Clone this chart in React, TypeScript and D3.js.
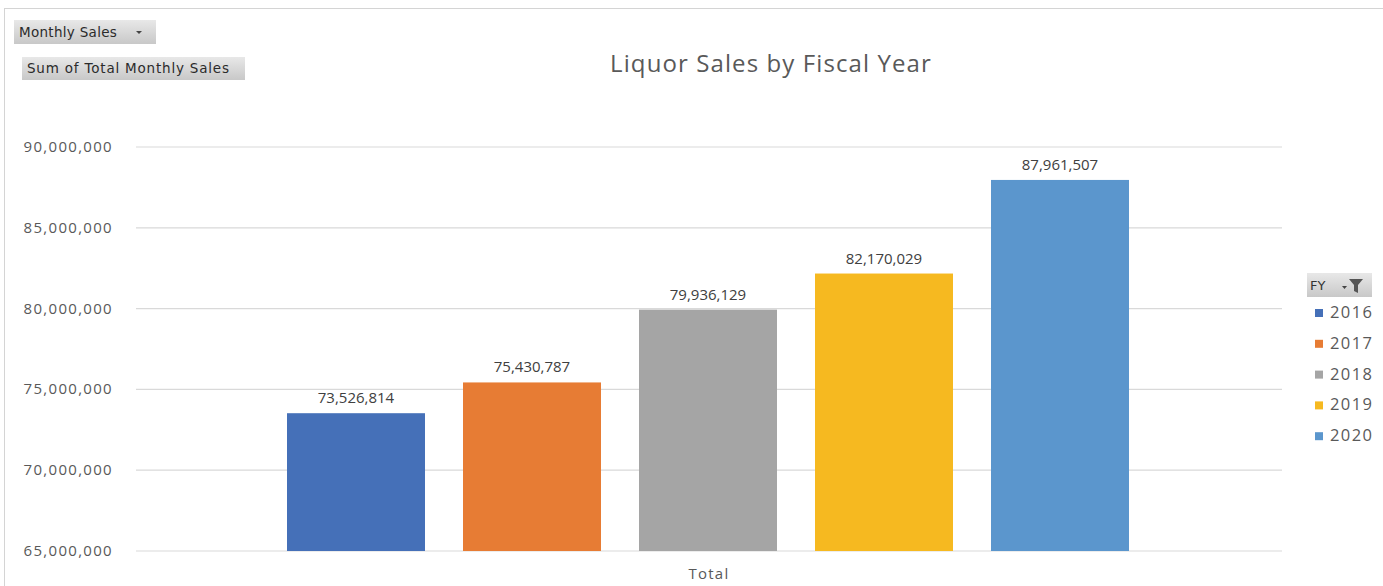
import React from "react";
import * as d3 from "d3";

const years = ["2016", "2017", "2018", "2019", "2020"];
const sales = [73526814, 75430787, 79936129, 82170029, 87961507];
const colors = ["#4570B8", "#E77C34", "#A5A5A5", "#F6B920", "#5B96CD"];
const yTicks = [65000000, 70000000, 75000000, 80000000, 85000000, 90000000];
const categoryLabel = "Total";

const W = 1383;
const H = 586;
const font = "'Open Sans', 'Noto Sans', sans-serif";
const btnFont = "'DejaVu Sans', Verdana, sans-serif";

export default function App() {
  const y = d3.scaleLinear().domain([65000000, 90000000]).range([551, 147]);
  const x = d3.scaleBand().domain(years).range([268, 1148]).paddingInner(0.216).paddingOuter(0.108);
  const fmt = d3.format(",");
  const bottom = y(65000000);

  return (
    <svg width={W} height={H} style={{ position: "absolute", left: 0, top: 0, background: "#fff" }} fontFamily={font}>
      <defs>
        <linearGradient id="btn" x1="0" y1="0" x2="0" y2="1">
          <stop offset="0" stopColor="#e8e8e8" />
          <stop offset="1" stopColor="#c8c8c8" />
        </linearGradient>
      </defs>
      <rect x={4.5} y={8.5} width={W} height={H} fill="#fff" stroke="#d4d4d4" />
      {/* field buttons */}
      <rect x={14} y={20} width={142} height={24} fill="url(#btn)" />
      <text x={19} y={37} fontSize={13.5} fill="#2b2b2b" fontFamily={btnFont} letterSpacing={0.3}>Monthly Sales</text>
      <path d="M136,31 l6,0 l-3,3 z" fill="#444" />
      <rect x={22} y={57} width={223} height={23} fill="url(#btn)" />
      <text x={27} y={73} fontSize={13.5} fill="#2b2b2b" fontFamily={btnFont} letterSpacing={0.8}>Sum of Total Monthly Sales</text>

      <text x={771} y={72} textAnchor="middle" fontSize={24} letterSpacing={1.1} fill="#595959">Liquor Sales by Fiscal Year</text>

      {yTicks.map((t) => (
        <g key={t}>
          <line x1={136} x2={1282} y1={y(t)} y2={y(t)} stroke="#d9d9d9" strokeWidth={1.2} />
          <text x={113} y={y(t) + 5} textAnchor="end" fontSize={15} letterSpacing={1.3} fill="#595959">{fmt(t)}</text>
        </g>
      ))}

      {years.map((yr, i) => (
        <g key={yr}>
          <rect x={x(yr)} y={y(sales[i])} width={x.bandwidth()} height={bottom - y(sales[i])} fill={colors[i]} />
          <text x={(x(yr) as number) + x.bandwidth() / 2} y={y(sales[i]) - 10} textAnchor="middle" fontSize={15} fill="#404040">{fmt(sales[i])}</text>
        </g>
      ))}

      <text x={709} y={579} textAnchor="middle" fontSize={15} letterSpacing={1.2} fill="#595959">{categoryLabel}</text>

      {/* legend */}
      <rect x={1307} y={273} width={65} height={24} fill="url(#btn)" />
      <text x={1310} y={290} fontSize={13} fill="#333" fontFamily={btnFont}>FY</text>
      <path d="M1342,286 l5,0 l-2.5,3 z" fill="#444" />
      <path d="M1349,279 l14,0 l-5,6 l0,8 l-4,-2 l0,-6 z" fill="#555" />
      {years.map((yr, i) => (
        <g key={"l" + yr}>
          <rect x={1315} y={309 + i * 30.8} width={8} height={8} fill={colors[i]} />
          <text x={1330} y={318 + i * 30.8} fontSize={16.5} letterSpacing={1.4} fill="#595959">{yr}</text>
        </g>
      ))}
    </svg>
  );
}
